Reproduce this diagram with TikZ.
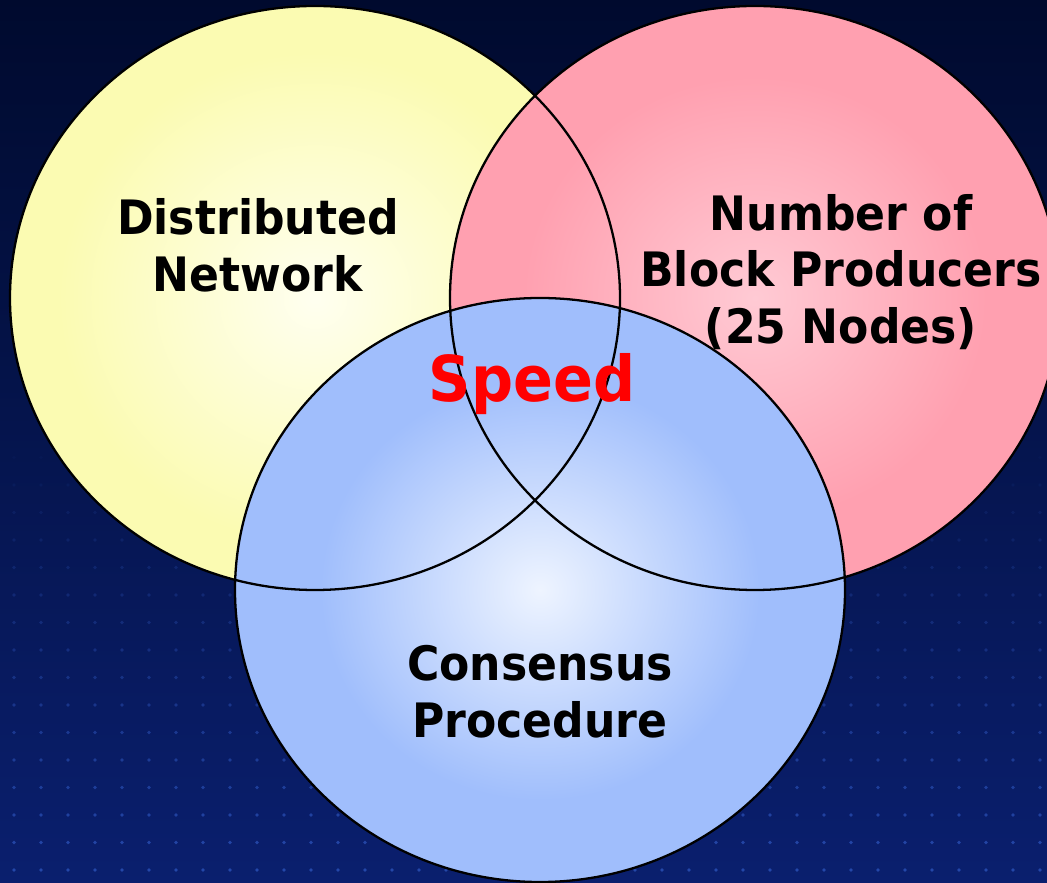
\documentclass[tikz,border=0pt]{standalone}
\usepackage{fontspec}
\usepackage{tikz}
\newfontfamily\vennfont{DejaVu Sans}[FakeStretch=0.93]
\definecolor{bgtop}{HTML}{000A2E}
\definecolor{bgbottom}{HTML}{0A1F6E}
\definecolor{dotblue}{HTML}{3A68DA}
\definecolor{yellowin}{HTML}{FFFFF0}
\definecolor{yellowout}{HTML}{FBFBB2}
\definecolor{pinkin}{HTML}{FFCAD4}
\definecolor{pinkout}{HTML}{FFA0B0}
\definecolor{bluein}{HTML}{EEF4FF}
\definecolor{blueout}{HTML}{A0BEFC}
\definecolor{speedred}{HTML}{FF0000}
\pgfdeclareradialshading{yellowfade}{\pgfpoint{0bp}{0bp}}{color(0bp)=(yellowin); color(21bp)=(yellowout); color(50bp)=(yellowout)}
\pgfdeclareradialshading{pinkfade}{\pgfpoint{0bp}{0bp}}{color(0bp)=(pinkin); color(19bp)=(pinkout); color(50bp)=(pinkout)}
\pgfdeclareradialshading{bluefade}{\pgfpoint{0bp}{0bp}}{color(0bp)=(bluein); color(18bp)=(blueout); color(50bp)=(blueout)}

\begin{document}
\begin{tikzpicture}[x=0.02cm,y=0.02cm]
        \tikzstyle{every node}+=[inner sep=0pt]
        \tikzstyle{settext}=[font=\vennfont\bfseries\fontsize{27}{32.3}\selectfont, align=center, text=black]
        \tikzstyle{setline}=[black, line width=1.3pt]
        \useasboundingbox (0,0) rectangle (1047,882);
        \shade [top color=bgtop, bottom color=bgbottom] (0,0) rectangle (1047,882);
        \foreach \j [evaluate=\j as \op using {0.55-0.034*\j}] in {0,...,15}
            \foreach \i in {0,...,38}
                \fill [dotblue, opacity=\op] (14+27*\i,12+27.5*\j) circle (1.8);
        \coordinate (yc) at (315,584);
        \coordinate (pc) at (755,584);
        \coordinate (bc) at (540,292);
        \shade [shading=yellowfade] (yc) ellipse (305 and 292);
        \shade [shading=pinkfade] (pc) ellipse (305 and 292);
        \shade [shading=bluefade] (bc) ellipse (305 and 292);
        \draw [setline] (yc) ellipse (305 and 292);
        \draw [setline] (pc) ellipse (305 and 292);
        \draw [setline] (bc) ellipse (305 and 292);
        \node [settext] (distnet) at (258,637) {Distributed\\Network};
        \node [settext] (blockprod) at (841,610) {Number of\\Block Producers\\(25 Nodes)};
        \node [settext] (consensus) at (540,190) {Consensus\\Procedure};
        \node [font=\vennfont\bfseries\fontsize{36}{43}\selectfont, text=speedred, anchor=base] (speed) at (532,480) {Speed};
\end{tikzpicture}
\end{document}
